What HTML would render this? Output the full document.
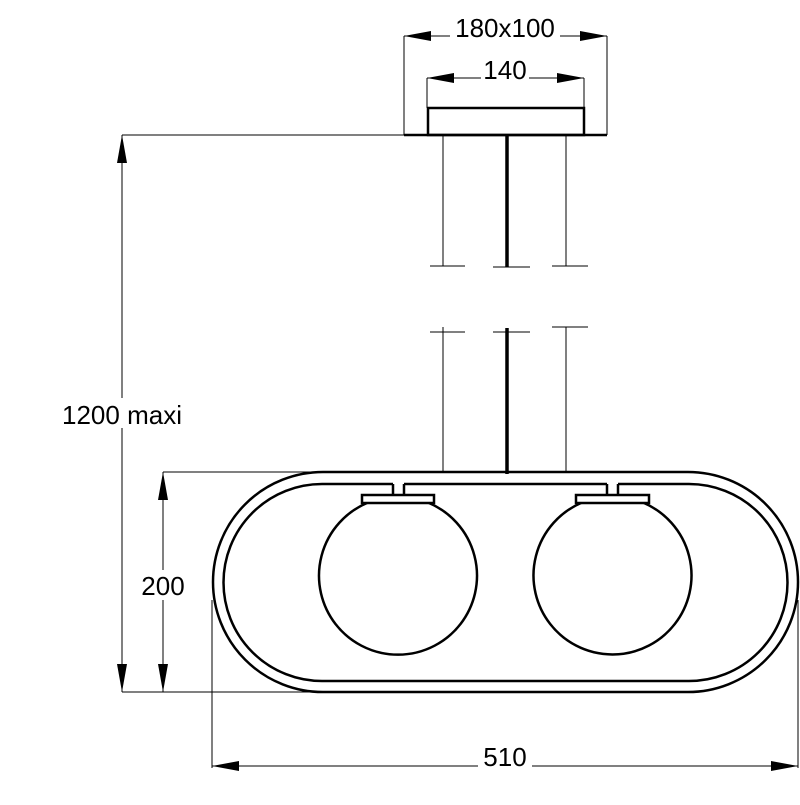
<!DOCTYPE html>
<html><head><style>body{margin:0;background:#fff}</style></head><body>
<svg width="800" height="800" viewBox="0 0 800 800" xmlns="http://www.w3.org/2000/svg" font-family="Liberation Sans, sans-serif">
<g stroke="#000" fill="none" stroke-width="1">
<line x1="404" y1="36" x2="404" y2="135"/><line x1="607" y1="36" x2="607" y2="135"/>
<line x1="404" y1="36" x2="607" y2="36"/>
<line x1="427" y1="78" x2="584" y2="78"/>
<line x1="427" y1="78" x2="427" y2="108"/><line x1="584" y1="78" x2="584" y2="108"/>
<line x1="122" y1="135" x2="404" y2="135"/>
<line x1="122" y1="135" x2="122" y2="692"/>
<line x1="163" y1="472" x2="163" y2="692"/>
<line x1="122" y1="692" x2="310" y2="692"/><line x1="163" y1="472" x2="310" y2="472"/>
<line x1="212" y1="600" x2="212" y2="768"/><line x1="798" y1="600" x2="798" y2="768"/>
<line x1="212" y1="766" x2="798" y2="766"/>
<line x1="443" y1="135" x2="443" y2="266"/><line x1="566" y1="135" x2="566" y2="266"/>
<line x1="430" y1="266" x2="465" y2="266"/><line x1="493" y1="267" x2="530" y2="267"/><line x1="552" y1="266" x2="588" y2="266"/>
<line x1="430" y1="332" x2="465" y2="332"/><line x1="493" y1="332" x2="530" y2="332"/><line x1="552" y1="327" x2="588" y2="327"/>
<line x1="443" y1="327" x2="443" y2="472"/><line x1="566" y1="327" x2="566" y2="472"/>
</g>
<g fill="#000">
<polygon points="404,36 431,31 431,41"/><polygon points="607,36 580,31 580,41"/>
<polygon points="427,78 454,73 454,83"/><polygon points="584,78 557,73 557,83"/>
<polygon points="122,135 117,163 127,163"/><polygon points="122,692 117,664 127,664"/>
<polygon points="163,472 158,500 168,500"/><polygon points="163,692 158,664 168,664"/>
<polygon points="212,766 239,761 239,771"/><polygon points="798,766 771,761 771,771"/>
</g>
<g stroke="#000" fill="none" stroke-width="2.5">
<line x1="404" y1="135" x2="607" y2="135"/>
<rect x="428" y="108" width="156" height="27"/>
<line x1="507" y1="135" x2="507" y2="267" stroke-width="3.5"/>
<line x1="507" y1="328" x2="507" y2="474" stroke-width="3.5"/>
<path d="M323,472 H688 A110,110 0 0 1 688,692 H323 A110,110 0 0 1 323,472Z"/>
<path d="M393,484 H322 A98.5,98.5 0 0 0 322,681 H689 A98.5,98.5 0 0 0 689,484 H618 M607,484 H404"/>
<path d="M393,484 V495 M404,484 V495 M607,484 V495 M618,484 V495"/>
<rect x="362" y="495" width="72" height="8"/>
<rect x="576" y="495" width="73" height="8"/>
<path d="M367,503 A79,79 0 1 0 429,503"/>
<path d="M581,503 A79,79 0 1 0 644,503"/>
</g>
<g font-size="26" fill="#000" text-anchor="middle">
<rect x="450" y="12" width="110" height="30" fill="#fff"/>
<text x="505" y="37">180x100</text>
<rect x="481" y="56" width="48" height="28" fill="#fff"/>
<text x="505" y="79">140</text>
<rect x="56" y="398" width="133" height="30" fill="#fff"/>
<text x="122" y="424">1200 maxi</text>
<rect x="138" y="570" width="52" height="30" fill="#fff"/>
<text x="163" y="595">200</text>
<rect x="478" y="742" width="54" height="30" fill="#fff"/>
<text x="505" y="766">510</text>
</g>
</svg>
</body></html>
